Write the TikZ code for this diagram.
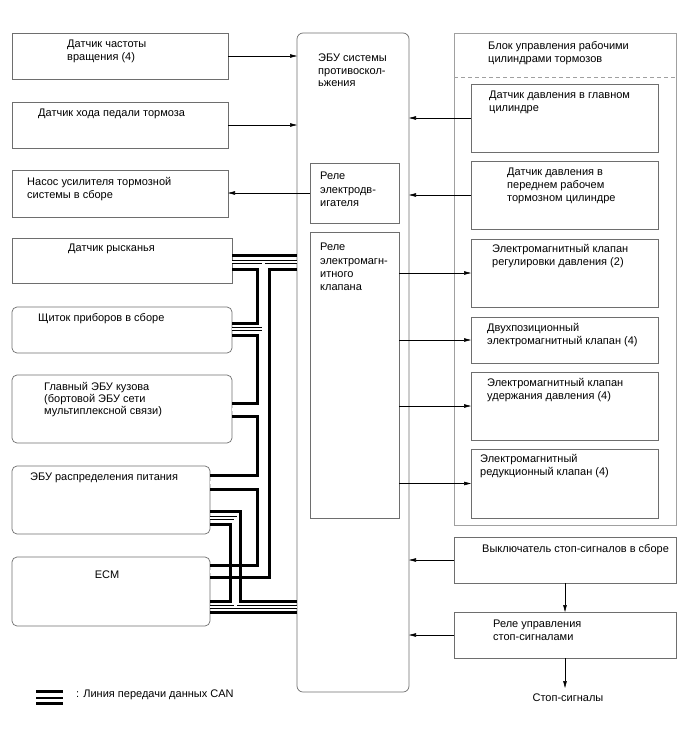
\documentclass[tikz,border=0pt]{standalone}
\usepackage{fontspec}
\setmainfont{Liberation Sans}
\usepackage{xcolor}
\usepackage{tikz}
\usetikzlibrary{calc,arrows.meta,positioning}
\definecolor{edgec}{HTML}{6E6E6E}
\definecolor{paleedge}{HTML}{A0A0A0}
\definecolor{inkc}{HTML}{000000}
\tikzset{
  ar/.style={-{Triangle[length=7pt,width=3.5pt]},line width=0.6pt,inkc},
  box/.style={draw=edgec,line width=0.7pt,anchor=north west,inner sep=0pt,outer sep=0pt},
  rbox/.style={box,rounded corners=5pt},
  lbl/.style={anchor=north west,align=left,inner sep=0pt,font=\fontsize{11}{13}\selectfont},
  canbold/.style={line width=3pt,inkc},
  canpair/.style={double=white,double distance=2.2pt,line width=0.8pt,inkc}
}

\begin{document}
\begin{tikzpicture}[x=1pt,y=-1pt]
\useasboundingbox (0,0) rectangle (688,755);
\node[box,minimum width=216pt,minimum height=46pt] (spd) at (12,33) {};
\node[box,minimum width=216pt,minimum height=46pt] (ped) at (12,102) {};
\node[box,minimum width=216pt,minimum height=47pt] (pump) at (12,170) {};
\node[box,minimum width=220pt,minimum height=45pt] (yaw) at (12,238) {};
\node[rbox,minimum width=220pt,minimum height=46pt] (shk) at (12,307) {};
\node[rbox,minimum width=220pt,minimum height=68pt] (mbe) at (12,375) {};
\node[rbox,minimum width=198pt,minimum height=68pt] (pwr) at (12,466) {};
\node[rbox,minimum width=198pt,minimum height=69pt] (ecm) at (12,557) {};
\node[box,rounded corners=6pt,minimum width=112pt,minimum height=659pt] (abs) at (297,33) {};
\node[box,minimum width=89pt,minimum height=60pt] (rel1) at (310,163) {};
\node[box,minimum width=89pt,minimum height=286pt] (rel2) at (310,232) {};
\node[box,draw=paleedge,minimum width=222pt,minimum height=492pt] (blk) at (454,33) {};
\node[box,minimum width=187pt,minimum height=68pt] (pmc) at (471,84) {};
\node[box,minimum width=187pt,minimum height=68pt] (pfw) at (471,161) {};
\node[box,minimum width=187pt,minimum height=68pt] (vreg) at (471,239) {};
\node[box,minimum width=187pt,minimum height=46pt] (vtwo) at (471,317) {};
\node[box,minimum width=187pt,minimum height=68pt] (vhold) at (471,372) {};
\node[box,minimum width=187pt,minimum height=69pt] (vred) at (471,449) {};
\node[box,minimum width=222pt,minimum height=46pt] (stsw) at (454,537) {};
\node[box,minimum width=222pt,minimum height=46pt] (strel) at (454,612) {};
\draw[paleedge,line width=0.7pt,dash pattern=on 4pt off 3pt] (blk.west |- 0,77) -- (blk.east |- 0,77);

\node[lbl] (spd-t) at (67,40) {Датчик частоты\\вращения (4)};
\node[lbl] (ped-t) at (38,109) {Датчик хода педали тормоза};
\node[lbl] (pump-t) at (27,177) {Насос усилителя тормозной\\системы в сборе};
\node[lbl] (yaw-t) at (68,244) {Датчик рысканья};
\node[lbl] (shk-t) at (38,313) {Щиток приборов в сборе};
\node[lbl,font=\fontsize{11}{12.2}\selectfont] (mbe-t) at (44,382) {Главный ЭБУ кузова\\(бортовой ЭБУ сети\\мультиплексной связи)};
\node[lbl] (pwr-t) at (30,473) {ЭБУ распределения питания};
\node[lbl,anchor=north] (ecm-t) at (107,571) {ECM};
\node[lbl,font=\fontsize{11}{12.5}\selectfont] (abs-t) at (318,54) {ЭБУ системы\\противоскол-\\ьжения};
\node[lbl,font=\fontsize{11}{13.5}\selectfont] (rel1-t) at (320,172) {Реле\\электродв-\\игателя};
\node[lbl,font=\fontsize{11}{13.4}\selectfont] (rel2-t) at (320,243) {Реле\\электромагн-\\итного\\клапана};
\node[lbl] (blk-t) at (488,41) {Блок управления рабочими\\цилиндрами тормозов};
\node[lbl] (pmc-t) at (489,91) {Датчик давления в главном\\цилиндре};
\node[lbl] (pfw-t) at (507,168) {Датчик давления в\\переднем рабочем\\тормозном цилиндре};
\node[lbl] (vreg-t) at (492,244) {Электромагнитный клапан\\регулировки давления (2)};
\node[lbl] (vtwo-t) at (487,323) {Двухпозиционный\\электромагнитный клапан (4)};
\node[lbl] (vhold-t) at (487,378) {Электромагнитный клапан\\удержания давления (4)};
\node[lbl] (vred-t) at (480,454) {Электромагнитный\\редукционный клапан (4)};
\node[lbl] (stsw-t) at (482,544) {Выключатель стоп-сигналов в сборе};
\node[lbl] (strel-t) at (493,620) {Реле управления\\стоп-сигналами};
\node[lbl,anchor=north] (lamps) at (568,694) {Стоп-сигналы};
\node[lbl] (legend-t) at (76,690) {: Линия передачи данных CAN};

\draw[ar] (spd.east) -- (spd.east -| abs.west);
\draw[ar] (ped.east) -- (ped.east -| abs.west);
\draw[ar] (rel1.west) -- (rel1.west -| pump.east);
\draw[ar] (pmc.west) -- (pmc.west -| abs.east);
\draw[ar] (pfw.west) -- (pfw.west -| abs.east);
\foreach \v in {vreg,vtwo,vhold,vred}
  \draw[ar] (\v.west -| rel2.east) -- (\v.west);
\draw[ar] (stsw.west) -- (stsw.west -| abs.east);
\draw[ar] (strel.west) -- (strel.west -| abs.east);
\draw[ar] (stsw.south) -- (strel.north);
\draw[ar] (strel.south) -- ($(strel.south |- lamps.north)+(0,-6)$);

\coordinate (tin) at (257,0);
\coordinate (tmid) at (263.5,0);
\coordinate (tout) at (269,0);
\coordinate (sin) at (230.5,0);
\coordinate (smid) at (235.5,0);
\coordinate (sout) at (240.5,0);
\draw[canpair] (yaw.east |- 0,262) -- (abs.west |- 0,262)
  (tmid |- 0,262) -- (tmid |- 0,571.5) -- (ecm.east |- 0,571.5)
  (shk.east |- 0,329) -- (tmid |- 0,329)
  (mbe.east |- 0,409.5) -- (tmid |- 0,409.5)
  (pwr.east |- 0,482.5) -- (tmid |- 0,482.5)
  (pwr.east |- 0,518) -| (smid |- 0,607)
  (ecm.east |- 0,607) -- (abs.west |- 0,607);
\draw[canbold] (yaw.east |- 0,255) -- (abs.west |- 0,255);
\draw[canbold] (yaw.east |- 0,269) -| (tin |- 0,323) -- (shk.east |- 0,323);
\draw[canbold] (abs.west |- 0,269) -| (tout |- 0,577.5) -- (ecm.east |- 0,577.5);
\draw[canbold] (shk.east |- 0,335) -| (tin |- 0,403) -- (mbe.east |- 0,403);
\draw[canbold] (mbe.east |- 0,416) -| (tin |- 0,475.5) -- (pwr.east |- 0,475.5);
\draw[canbold] (pwr.east |- 0,489) -| (tin |- 0,565) -- (ecm.east |- 0,565);
\draw[canbold] (pwr.east |- 0,511.5) -| (sout |- 0,601) -- (abs.west |- 0,601);
\draw[canbold] (pwr.east |- 0,524.5) -| (sin |- 0,601) -- (ecm.east |- 0,601);
\draw[canbold] (ecm.east |- 0,612) -- (abs.west |- 0,612);

\draw[canbold,line width=3.2pt] (36,691.7) -- (63,691.7);
\draw[canbold,line width=2.2pt] (36,697.8) -- (63,697.8);
\draw[canbold,line width=3pt] (36,703.3) -- (63,703.3);
\end{tikzpicture}
\end{document}
